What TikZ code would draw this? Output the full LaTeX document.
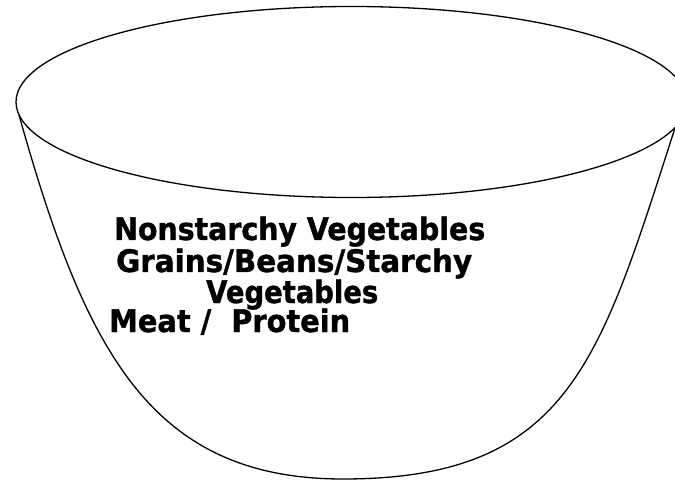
\documentclass[tikz,border=0pt]{standalone}
\usepackage{graphicx}
\usepackage{fontspec}
\setmainfont{DejaVu Sans}
\newfontfamily\heavyfont{DejaVu Sans Bold}[FakeBold=1.2]
\newcommand\fitline[2]{\resizebox{#1}{\height}{#2}}
\begin{document}
\begin{tikzpicture}[x=1pt,y=-1pt,
  bowlline/.style={draw=black,line width=1.3pt},
  foodtext/.style={anchor=base west,inner sep=0pt,font=\fontsize{31}{36}\selectfont\heavyfont}]
\useasboundingbox (0,0) rectangle (675,481);
\clip (0,0) rectangle (675,481);
\draw[bowlline] (351.6,102) ellipse [x radius=335.6, y radius=95.5];
\coordinate (lt) at (19,115);
\coordinate (rt) at (675,128);
\coordinate (bot) at (343,479);
\draw[bowlline] (lt) .. controls (85,350) and (150,479) .. (bot)
  .. controls (570,479) and (600,360) .. (rt);
\node[foodtext] (n1) at (114,240) {\fitline{371pt}{Nonstarchy Vegetables}};
\node[foodtext] (n2) at (116,272) {\fitline{356pt}{Grains/Beans/Starchy}};
\node[foodtext] (n3) at (206,303) {\fitline{172pt}{Vegetables}};
\node[foodtext] (n4) at (109,332) {\fitline{241pt}{Meat /\ \ Protein}};
\end{tikzpicture}
\end{document}
